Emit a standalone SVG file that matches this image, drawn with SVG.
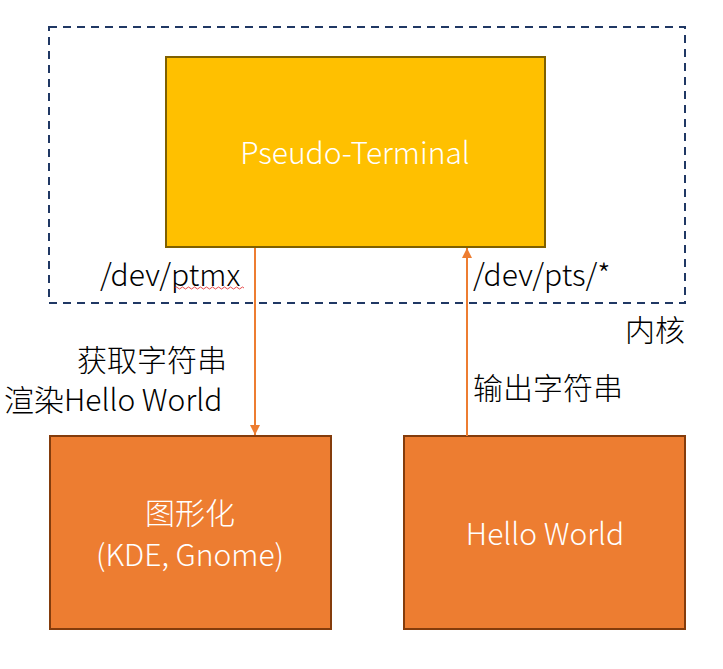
<svg xmlns="http://www.w3.org/2000/svg" width="723" height="669" viewBox="0 0 723 669">
<defs>
<style>
text{font-family:"Noto Sans CJK SC","Noto Sans",sans-serif;font-size:30px;font-weight:300;fill:#000}
.w{fill:#fff}
.conn{stroke:#ED7D31;stroke-width:2;fill:none}
</style>
<marker id="ah" viewBox="0 0 10 10" refX="10" refY="5" markerWidth="5" markerHeight="5" orient="auto"><path d="M0,0 L10,5 L0,10 z" fill="#ED7D31"/></marker>
</defs>
<rect width="723" height="669" fill="#fff"/>
<g id="kernel">
<rect x="49" y="27" width="636" height="276" fill="none" stroke="#203864" stroke-width="2" stroke-dasharray="8,6"/>
<text x="685" y="341" text-anchor="end">内核</text>
</g>
<g id="pty">
<rect x="166" y="57" width="379" height="190" fill="#FFC000" stroke="#7F6000" stroke-width="2"/>
<text class="w" x="355" y="164" text-anchor="middle">Pseudo-Terminal</text>
</g>
<g id="gui">
<rect x="50" y="436" width="281" height="193" fill="#ED7D31" stroke="#843C0C" stroke-width="2"/>
<text class="w" x="190" y="524" text-anchor="middle">图形化</text>
<text class="w" x="190" y="566" text-anchor="middle">(KDE, Gnome)</text>
</g>
<g id="hello">
<rect x="404" y="436" width="281" height="193" fill="#ED7D31" stroke="#843C0C" stroke-width="2"/>
<text class="w" x="545" y="545" text-anchor="middle">Hello World</text>
</g>
<g id="connectors">
<line class="conn" x1="255" y1="248" x2="255" y2="435" marker-end="url(#ah)"/>
<line class="conn" x1="467" y1="436" x2="467" y2="248" marker-end="url(#ah)"/>
</g>
<g id="labels">
<text x="100" y="286">/dev/ptmx</text>
<path d="M175,288 q1.5,-2 3,0 t3,0 t3,0 t3,0 t3,0 t3,0 t3,0 t3,0 t3,0 t3,0 t3,0 t3,0 t3,0 t3,0 t3,0 t3,0 t3,0 t3,0 t3,0 t3,0 t3,0 t3,0 t3,0" fill="none" stroke="#E02020" stroke-width="0.8"/>
<text x="473" y="286">/dev/pts/*</text>
<text x="227" y="371" text-anchor="end">获取字符串</text>
<text x="4" y="411">渲染Hello World</text>
<text x="473" y="399">输出字符串</text>
</g>
</svg>
